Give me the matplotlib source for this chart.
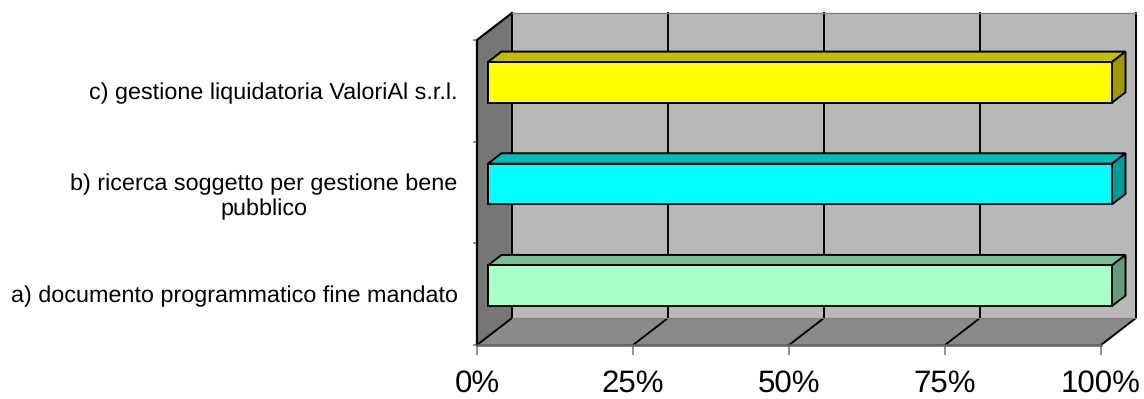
import matplotlib
matplotlib.use('Agg')
import matplotlib.pyplot as plt
from matplotlib.patches import Polygon

plt.rcParams['font.family'] = ['Liberation Sans', 'DejaVu Sans']
plt.rcParams['text.hinting'] = 'no_hinting'

categories = ['a) documento programmatico fine mandato',
              'b) ricerca soggetto per gestione bene\npubblico',
              'c) gestione liquidatoria ValoriAl s.r.l.']
values = [100, 100, 100]
front_colors = ['#A6FFC6', '#00FFFF', '#FFFF00']
top_colors = ['#7DBF95', '#00BFBF', '#C4BE00']
side_colors = ['#669C7B', '#009C9C', '#A09A00']
x_ticks = [0, 25, 50, 75, 100]

W, H = 1144, 399
fig = plt.figure(figsize=(W / 100, H / 100), dpi=100)
ax = fig.add_axes([477 / W, 1 - 345 / H, 624 / W, 305 / H])
ax.set_xlim(0, 100)
ax.set_ylim(0, len(categories))

# depth of the 3d box, in data units
DX = 35 * 100 / 624
DY = 27 * len(categories) / 305


def pt(x, y, d=1.0):
    return (x + d * DX, y + d * DY)


def face(points, color, z, edge='none', lw=0):
    ax.add_patch(Polygon(points, closed=True, facecolor=color, edgecolor=edge,
                         linewidth=lw, zorder=z, clip_on=False))


top = len(categories)
face([pt(0, 0), pt(100, 0), pt(100, top), pt(0, top)], '#B8B8B8', 1)
face([pt(0, 0, 0), pt(0, top, 0), pt(0, top), pt(0, 0)], '#767676', 1)
face([pt(0, 0, 0), pt(100, 0, 0), pt(100, 0), pt(0, 0)], '#8A8A8A', 1)

# grid on back wall and floor
for t in x_ticks:
    ax.plot(*zip(pt(t, 0, 0), pt(t, 0), pt(t, top)), color='black', lw=1.4,
            zorder=2, clip_on=False)
ax.plot(*zip(pt(0, 0, 0), pt(0, top, 0), pt(0, top)), color='black', lw=1.6,
        zorder=2, clip_on=False)
ax.plot(*zip(pt(0, top), pt(100, top)), color='#808080', lw=1.0, zorder=2, clip_on=False)
ax.plot(*zip(pt(0, 0), pt(100, 0)), color='#808080', lw=0.8, zorder=2, clip_on=False)
ax.plot(*zip(pt(0, 0, 0), pt(100, 0, 0)), color='#606060', lw=1.8, zorder=3, clip_on=False)

# bars
bar_h = 0.4
d0, d1 = 0.315, 0.7
for i, v in enumerate(values):
    yc = i + 0.5
    y0, y1 = yc - bar_h / 2, yc + bar_h / 2
    face([pt(0, y1, d0), pt(v, y1, d0), pt(v, y1, d1), pt(0, y1, d1)], top_colors[i], 4, 'black', 1.4)
    face([pt(v, y0, d0), pt(v, y1, d0), pt(v, y1, d1), pt(v, y0, d1)], side_colors[i], 4, 'black', 1.4)
    ax.barh(yc + d0 * DY, v, left=d0 * DX, height=bar_h, color=front_colors[i],
            edgecolor='black', linewidth=1.4, zorder=5, clip_on=False)
ax.set_xlim(0, 100)
ax.set_ylim(0, top)

for s in ax.spines.values():
    s.set_visible(False)
ax.patch.set_visible(False)

ax.set_xticks(x_ticks)
ax.set_xticklabels([f'{t}%' for t in x_ticks], fontsize=22.5)
ax.tick_params(axis='x', length=7, width=1.2, color='#808080', pad=10.5)
ax.set_yticks(range(top + 1))
ax.set_yticklabels([])
ax.tick_params(axis='y', which='major', length=3, width=1.2, color='#808080')
ax.set_yticks([i + 0.5 for i in range(top)], minor=True)
ax.set_yticklabels(categories, minor=True, fontsize=16.85, multialignment='center', linespacing=1.2)
ax.tick_params(axis='y', which='minor', length=0, pad=14)

fig.savefig('out.png', dpi=100)
